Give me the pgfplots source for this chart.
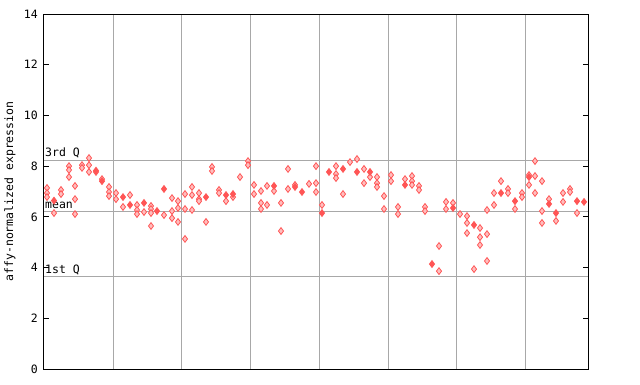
\documentclass[border=0pt]{standalone}
\usepackage{fontspec}
\setmainfont{DejaVu Sans Mono}
\usepackage{pgfplots}
\pgfplotsset{compat=1.18}
\definecolor{pt}{RGB}{255,85,85}
\definecolor{ptl}{RGB}{255,190,190}
\definecolor{gr}{RGB}{168,168,168}
\begin{document}
\begin{tikzpicture}
\begin{axis}[
  scale only axis, width=544pt, height=355pt,
  xmin=44, xmax=588, ymin=0, ymax=14,
  xtick={113,181.5,250.3,319.3,388.3,456.7,525.5}, xticklabels={},
  xmajorgrids, major grid style={draw=gr, line width=1pt},
  major x tick style={draw=none},
  ytick={0,2,4,6,8,10,12,14},
  tick align=inside, major tick length=5pt,
  ytick pos=both,
  y tick style={black, line width=1pt},
  axis line style={black, line width=1pt},
  /pgf/number format/assume math mode=true,
  tick label style={font=\fontsize{11.5}{13}\selectfont},
  yticklabel style={inner sep=0pt, xshift=-6pt},
  ylabel={affy-normalized expression},
  ylabel style={at={(axis description cs:-0.0625,0.5)}, anchor=center, font=\fontsize{11.5}{13}\selectfont},
  clip=false,
]
\draw[gr, line width=1pt] (axis cs:44,8.24) -- (axis cs:588,8.24);
\draw[gr, line width=1pt] (axis cs:44,6.23) -- (axis cs:588,6.23);
\draw[gr, line width=1pt] (axis cs:44,3.63) -- (axis cs:588,3.63);
\node[anchor=south west, inner sep=0pt, font=\fontsize{11.5}{13}\selectfont] at (axis cs:45,8.32) {3rd Q};
\node[anchor=south west, inner sep=0pt, font=\fontsize{11.5}{13}\selectfont] at (axis cs:45,6.31) {mean};
\node[anchor=south west, inner sep=0pt, font=\fontsize{11.5}{13}\selectfont] at (axis cs:45,3.71) {1st Q};
\addplot[only marks, mark=diamond*, mark size=3.4pt, mark options={draw=pt, fill=ptl, line width=0.8pt}] table {
47 7.14
47 6.94
47 6.78
54 6.15
61 7.06
61 6.90
69 8.00
69 7.85
69 7.57
75 7.22
75 6.70
75 6.11
82 8.04
82 7.93
89 8.32
89 8.04
89 7.77
96 7.77
102 7.49
109 7.18
109 6.98
109 6.82
116 6.94
116 6.70
123 6.39
130 6.86
137 6.47
137 6.27
137 6.11
144 6.19
151 6.43
151 6.31
151 6.15
151 5.64
164 6.07
172 6.74
172 6.23
172 5.95
178 6.62
178 6.35
178 5.80
185 6.90
185 6.31
185 5.13
192 7.18
192 6.86
192 6.27
199 6.94
199 6.70
199 6.62
206 5.80
212 7.97
212 7.81
219 7.06
219 6.94
226 6.62
233 6.78
240 7.57
248 8.20
248 8.04
254 7.26
254 6.90
261 7.02
261 6.55
261 6.31
267 7.22
267 6.47
274 7.02
281 6.55
281 5.44
288 7.89
288 7.10
295 7.26
309 7.30
316 8.00
316 7.33
316 6.98
322 6.47
336 8.00
336 7.69
336 7.53
343 6.90
350 8.16
357 8.28
364 7.89
364 7.33
370 7.57
377 7.57
377 7.33
377 7.18
384 6.82
384 6.31
391 7.65
391 7.41
398 6.39
398 6.11
405 7.49
412 7.61
412 7.41
412 7.26
419 7.22
419 7.06
425 6.39
425 6.23
439 4.85
439 3.86
446 6.59
446 6.31
453 6.55
460 6.11
467 6.03
467 5.76
467 5.36
474 3.94
480 5.56
480 5.20
480 4.89
487 6.27
487 5.32
487 4.26
494 6.94
494 6.47
501 7.41
508 7.10
508 6.94
515 6.31
522 6.94
522 6.78
529 7.65
529 7.26
535 8.20
535 7.61
535 6.94
542 7.41
542 6.23
542 5.76
549 6.70
556 5.84
563 6.94
563 6.59
570 7.10
570 6.98
577 6.15
};
\addplot[only marks, mark=diamond*, mark size=3.4pt, mark options={draw=pt, fill=pt, line width=0.8pt}] table {
54 6.64
96 7.82
102 7.41
123 6.78
130 6.47
144 6.55
157 6.23
164 7.10
206 6.78
226 6.86
233 6.90
274 7.22
295 7.18
302 6.98
322 6.15
329 7.77
343 7.89
357 7.77
370 7.77
405 7.26
432 4.14
453 6.35
474 5.68
501 6.94
515 6.62
529 7.57
549 6.51
556 6.15
577 6.62
584 6.59
};
\end{axis}
\pgfresetboundingbox
\path[use as bounding box] (-44pt,-15pt) rectangle (596pt,369pt);
\end{tikzpicture}
\end{document}
